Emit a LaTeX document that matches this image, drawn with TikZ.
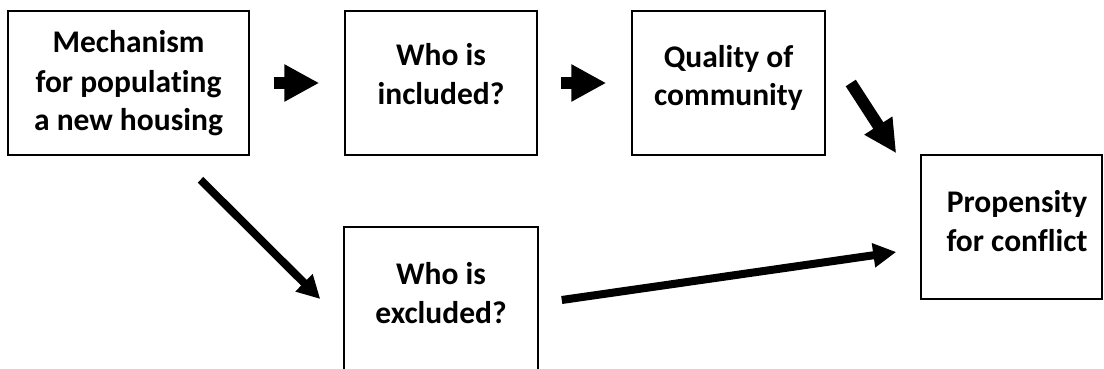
\documentclass[tikz,border=0pt]{standalone}
\usepackage{fontspec}
\setmainfont{Carlito}[Ligatures=NoCommon]
\usetikzlibrary{arrows.meta}
\tikzset{
  box/.style={draw=black, line width=1.5pt, rectangle, inner sep=0pt, fill=white},
  lbl/.style={align=center, inner sep=0pt, anchor=base, font=\bfseries\fontsize{31.5}{39}\selectfont},
  fat/.style={line width=11.5pt, -{Triangle[length=35pt,width=35pt]}},
  mid/.style={line width=12pt, -{Triangle[length=33pt,width=31pt]}},
  thin/.style={line width=8pt, -{Triangle[length=23pt,width=23pt]}}
}
\begin{document}
\begin{tikzpicture}[x=1pt,y=-1pt]
\useasboundingbox (0,0) rectangle (1104,369);
\clip (0,0) rectangle (1104,369);
\fill[white] (0,0) rectangle (1104,369);
% boxes
\node[box, minimum width=241pt, minimum height=144pt] (b1) at (128.5,83) {};
\node[box, minimum width=192pt, minimum height=144pt] (b2) at (441,83) {};
\node[box, minimum width=193pt, minimum height=144pt] (b3) at (728.5,83) {};
\node[box, minimum width=181pt, minimum height=144pt] (b4) at (1011.5,227) {};
\node[box, minimum width=194pt, minimum height=144pt] (b5) at (441,299) {};
% texts (anchor = baseline of the last line)
\node[lbl] (t1) at (128.5,131) {Mechanism\\for populating\\a new housing};
\node[lbl] (t2) at (441,104) {Who is\\included?};
\node[lbl] (t3) at (728.5,106) {Quality of\\community};
\node[lbl] (t4) at (1017,251) {Propensity\\for conflict};
\node[lbl] (t5) at (441,323) {Who is\\excluded?};
% connector ends
\coordinate (a3s) at ([xshift=25pt]b3.east);
\coordinate (a3e) at ([xshift=-24pt,yshift=1pt]b4.north west);
\coordinate (a4s) at ([xshift=23pt,yshift=-1pt]b5.east);
\coordinate (a4e) at ([xshift=-24pt,yshift=-25pt]b4.west);
\coordinate (a5s) at ([xshift=72pt,yshift=-24pt]b1.south);
\coordinate (a5e) at ([xshift=-23pt]b5.west);
% arrows
\draw[fat, shorten <=24pt, shorten >=25pt] (b1.east) -- (b2.west);
\draw[fat, shorten <=23pt, shorten >=25pt] (b2.east) -- (b3.west);
\draw[mid] (a3s) -- (a3e);
\draw[thin] (a4s) -- (a4e);
\draw[thin] (a5s) -- (a5e);
\end{tikzpicture}
\end{document}
